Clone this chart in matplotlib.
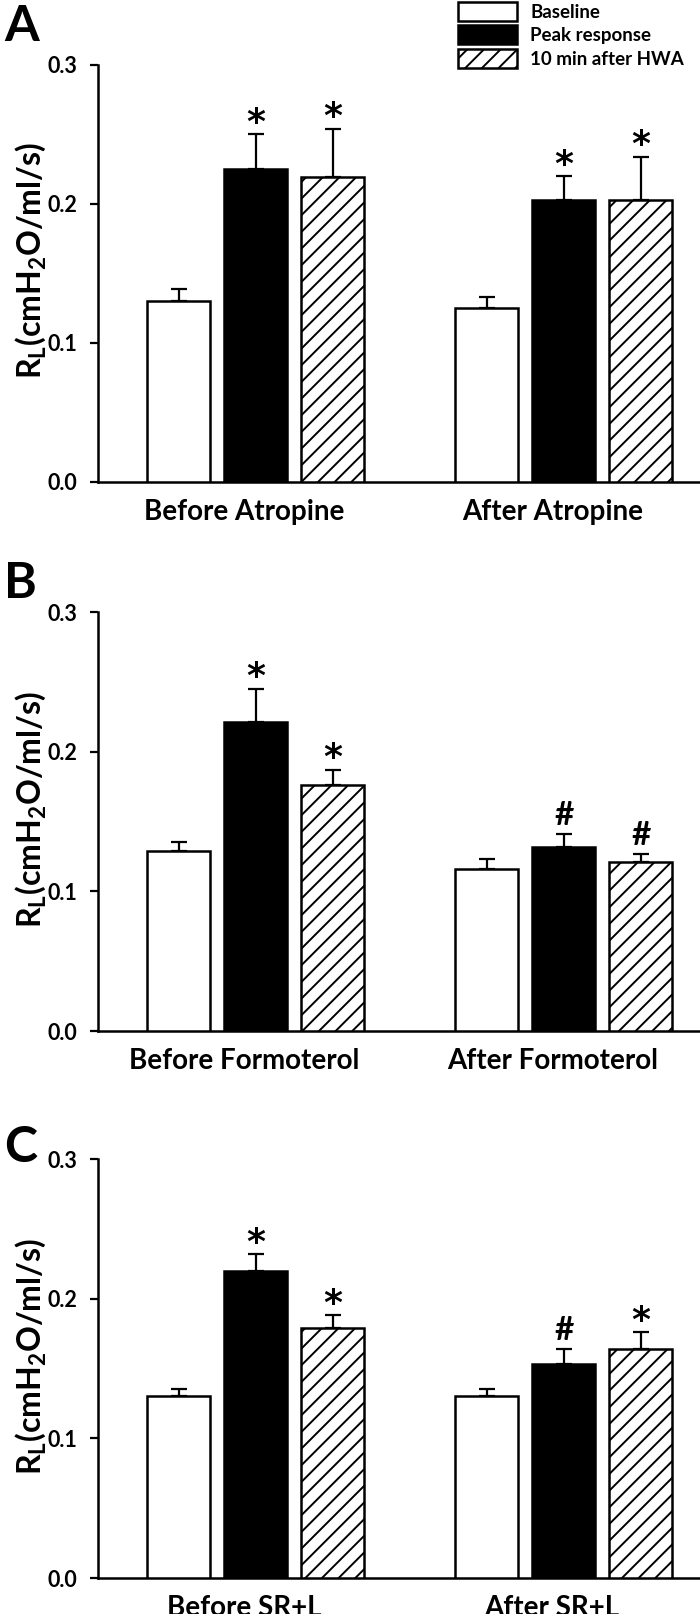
import numpy as np
import matplotlib
matplotlib.use('Agg')
import matplotlib.pyplot as plt

plt.rcParams['font.family'] = ['Lato', 'DejaVu Sans']
plt.rcParams['font.weight'] = 'bold'
plt.rcParams['mathtext.fontset'] = 'custom'
plt.rcParams['mathtext.rm'] = 'Lato:bold'
plt.rcParams['mathtext.default'] = 'rm'
plt.rcParams['hatch.linewidth'] = 1.4

series_names = ['Baseline', 'Peak response', '10 min after HWA']

# panel A
groups_A = ['Before Atropine', 'After Atropine']
baseline_A = [0.130, 0.125]
baseline_A_err = [0.009, 0.008]
peak_A = [0.225, 0.203]
peak_A_err = [0.025, 0.017]
hwa_A = [0.219, 0.203]
hwa_A_err = [0.035, 0.031]
peak_A_mark = ['*', '*']
hwa_A_mark = ['*', '*']

# panel B
groups_B = ['Before Formoterol', 'After Formoterol']
baseline_B = [0.129, 0.116]
baseline_B_err = [0.006, 0.007]
peak_B = [0.221, 0.132]
peak_B_err = [0.024, 0.009]
hwa_B = [0.176, 0.121]
hwa_B_err = [0.011, 0.006]
peak_B_mark = ['*', '#']
hwa_B_mark = ['*', '#']

# panel C
groups_C = ['Before SR+L', 'After SR+L']
baseline_C = [0.130, 0.130]
baseline_C_err = [0.005, 0.005]
peak_C = [0.220, 0.153]
peak_C_err = [0.012, 0.011]
hwa_C = [0.179, 0.164]
hwa_C_err = [0.009, 0.012]
peak_C_mark = ['*', '#']
hwa_C_mark = ['*', '*']

yticks = [0.0, 0.1, 0.2, 0.3]
ytick_labels = ['0.0', '0.1', '0.2', '0.3']


def put_mark(ax, x, top, m):
    # asterisk from DejaVu (bigger glyph), hash from Lato
    if m == '*':
        ax.annotate(m, (x, top), xytext=(0, 1), textcoords='offset points',
                    ha='center', va='baseline', fontsize=26, fontweight='bold',
                    family='DejaVu Sans')
    else:
        ax.annotate(m, (x, top), xytext=(0, 6.5), textcoords='offset points',
                    ha='center', va='baseline', fontsize=24, fontweight='bold')


def draw_panel(ax, groups, vals, errs, marks):
    centers = np.array([0.0, 4.0])
    offsets = [-1, 0, 1]
    faces = ['white', 'black', 'white']
    hatches = [None, None, '//']
    bars = []
    for k in range(3):
        x = centers + offsets[k]
        b = ax.bar(x, vals[k], width=0.82, facecolor=faces[k],
                   edgecolor='black', linewidth=1.8, hatch=hatches[k],
                   zorder=3, label=series_names[k])
        bars.append(b)
        ax.errorbar(x, vals[k], yerr=[np.zeros(len(x)), errs[k]], fmt='none',
                    ecolor='black', elinewidth=1.6, capsize=6, capthick=1.6, zorder=2)
        if marks[k] is not None:
            for xi, v, e, m in zip(x, vals[k], errs[k], marks[k]):
                put_mark(ax, xi, v + e, m)
    ax.set_xlim(-2.05, 5.77)
    ax.set_ylim(0, 0.3)
    ax.set_xticks(centers - 0.15)
    ax.set_xticklabels(groups, fontsize=20, fontweight='bold')
    ax.tick_params(axis='x', length=0, pad=12)
    ax.set_yticks(yticks)
    ax.set_yticklabels(ytick_labels, fontsize=15.5, fontweight='bold')
    ax.tick_params(axis='y', direction='out', length=6, width=1.6, pad=9)
    for s in ['top', 'right']:
        ax.spines[s].set_visible(False)
    for s in ['left', 'bottom']:
        ax.spines[s].set_linewidth(1.8)
    ax.set_ylabel('R$_L$(cmH$_2$O/ml/s)', fontsize=23, fontweight='bold')
    ax.yaxis.set_label_coords(-0.083, 0.53)
    return bars


fig = plt.figure(figsize=(7.0, 16.14), dpi=100)
ax_A = fig.add_axes([0.14, 0.7014, 0.86, 0.2584])
ax_B = fig.add_axes([0.14, 0.3612, 0.86, 0.2596])
ax_C = fig.add_axes([0.14, 0.0223, 0.86, 0.2596])

bars = draw_panel(ax_A, groups_A,
                  [baseline_A, peak_A, hwa_A],
                  [baseline_A_err, peak_A_err, hwa_A_err],
                  [None, peak_A_mark, hwa_A_mark])
draw_panel(ax_B, groups_B,
           [baseline_B, peak_B, hwa_B],
           [baseline_B_err, peak_B_err, hwa_B_err],
           [None, peak_B_mark, hwa_B_mark])
draw_panel(ax_C, groups_C,
           [baseline_C, peak_C, hwa_C],
           [baseline_C_err, peak_C_err, hwa_C_err],
           [None, peak_C_mark, hwa_C_mark])

# panel letters
fig.text(0.006, 1 - 4 / 1614, 'A', fontsize=36, fontweight='bold', va='top', ha='left')
fig.text(0.006, 1 - 561 / 1614, 'B', fontsize=36, fontweight='bold', va='top', ha='left')
fig.text(0.006, 1 - 1125 / 1614, 'C', fontsize=36, fontweight='bold', va='top', ha='left')

fig.legend(handles=bars, labels=series_names, loc='upper left',
           bbox_to_anchor=(456 / 700, 1.0), frameon=False, fontsize=13.5,
           borderaxespad=0, borderpad=0.1, handlelength=3.15, handleheight=1.17,
           labelspacing=0.25, handletextpad=0.7)

fig.savefig('out.png', dpi=100)
